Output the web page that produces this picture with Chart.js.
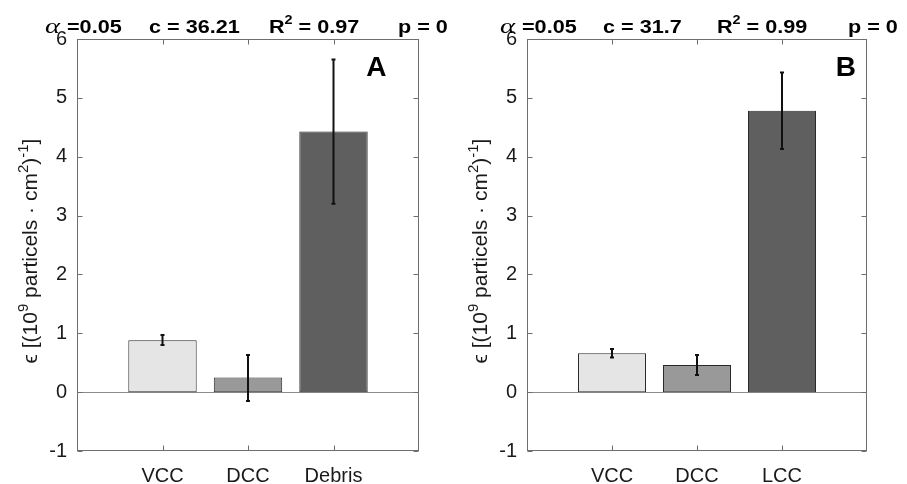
<!DOCTYPE html>
<html><head><meta charset="utf-8">
<script src="https://cdn.jsdelivr.net/npm/chart.js@4.4.1/dist/chart.umd.min.js"></script>
<style>
html,body{margin:0;padding:0;background:#fff;}
#wrap{position:relative;width:907px;height:484px;overflow:hidden;}
canvas{position:absolute;top:0;}
</style></head><body>
<div id="wrap">
<canvas id="cA" width="453" height="484" style="left:0"></canvas>
<canvas id="cB" width="454" height="484" style="left:453px"></canvas>
</div>
<script>
// ---- data ----
const categoriesA = ['VCC', 'DCC', 'Debris'];
const valuesA = [0.88, 0.25, 4.43];
const errLowA = [0.80, -0.15, 3.20];
const errHighA = [0.97, 0.63, 5.65];
const statsA = ['0.05', '36.21', '0.97', '0'];

const categoriesB = ['VCC', 'DCC', 'LCC'];
const valuesB = [0.66, 0.46, 4.78];
const errLowB = [0.59, 0.29, 4.13];
const errHighB = [0.735, 0.63, 5.43];
const statsB = ['0.05', '31.7', '0.99', '0'];

const yTicks = [-1, 0, 1, 2, 3, 4, 5, 6];
// y-axis title pieces: [text, isSuperscript]
const yTitleParts = [['ϵ [(10', false], ['9', true], [' particels · cm', false], ['2', true], [')', false], ['-1', true], [']', false]];
const barColors = ['#e5e5e5', '#999999', '#5f5f5f'];

function stretchText(ctx, text, x, y, sx) {
  ctx.save();
  ctx.translate(x, y);
  ctx.scale(sx, 1);
  ctx.fillText(text, 0, 0);
  const w = ctx.measureText(text).width * sx;
  ctx.restore();
  return w;
}

function makePanel(id, cats, vals, lo, hi, stats, letter, letterPos, layout) {
  const panelPlugin = {
    id: 'panel_' + id,
    beforeDatasetsDraw(chart) {
      const {ctx, chartArea: a, scales: {y}} = chart;
      const y0 = Math.round(y.getPixelForValue(0)) + 0.5;
      ctx.save();
      ctx.strokeStyle = '#8c8c8c';
      ctx.lineWidth = 1;
      ctx.beginPath(); ctx.moveTo(a.left, y0); ctx.lineTo(a.right, y0); ctx.stroke();
      ctx.restore();
    },
    afterDatasetsDraw(chart) {
      const {ctx, scales: {x, y}} = chart;
      ctx.save();
      ctx.strokeStyle = '#111';
      ctx.lineWidth = 2;
      cats.forEach((c, i) => {
        const px = x.getPixelForValue(i + 1);
        const p1 = y.getPixelForValue(lo[i]);
        const p2 = y.getPixelForValue(hi[i]);
        ctx.beginPath();
        ctx.moveTo(px, p1); ctx.lineTo(px, p2);
        ctx.moveTo(px - 2, p1); ctx.lineTo(px + 2, p1);
        ctx.moveTo(px - 2, p2); ctx.lineTo(px + 2, p2);
        ctx.stroke();
      });
      ctx.restore();
    },
    afterDraw(chart) {
      const {ctx, chartArea: a, scales: {x, y}} = chart;
      ctx.save();
      // box
      ctx.strokeStyle = '#6e6e6e';
      ctx.lineWidth = 1;
      const L = Math.round(a.left) + 0.5, R = Math.round(a.right) - 0.5;
      const T = Math.round(a.top) + 0.5, B = Math.round(a.bottom) - 0.5;
      ctx.strokeRect(L, T, R - L, B - T);
      // inward ticks
      ctx.beginPath();
      yTicks.forEach(v => {
        const py = Math.round(y.getPixelForValue(v)) + 0.5;
        ctx.moveTo(L, py); ctx.lineTo(L + 5, py);
        ctx.moveTo(R, py); ctx.lineTo(R - 5, py);
      });
      cats.forEach((c, i) => {
        const px = Math.round(x.getPixelForValue(i + 1)) + 0.5;
        ctx.moveTo(px, B); ctx.lineTo(px, B - 5);
        ctx.moveTo(px, T); ctx.lineTo(px, T + 5);
      });
      ctx.stroke();

      // y-axis title (rotated, with superscripts)
      ctx.save();
      ctx.fillStyle = '#1a1a1a';
      ctx.textBaseline = 'alphabetic';
      ctx.textAlign = 'left';
      const fMain = '21px "Liberation Sans"', fSup = '15px "Liberation Sans"';
      let total = 0;
      yTitleParts.forEach(([t, sup]) => { ctx.font = sup ? fSup : fMain; total += ctx.measureText(t).width; });
      ctx.translate(a.left - 40, 251);
      ctx.rotate(-Math.PI / 2);
      let tx = -total / 2;
      yTitleParts.forEach(([t, sup]) => {
        ctx.font = sup ? fSup : fMain;
        ctx.fillText(t, tx, sup ? -9 : 0);
        tx += ctx.measureText(t).width;
      });
      ctx.restore();

      // stats line
      ctx.fillStyle = '#000';
      ctx.textBaseline = 'alphabetic';
      ctx.textAlign = 'left';
      const base = 33;
      const sx = 1.2;
      ctx.font = 'italic 22px "Liberation Serif"';
      stretchText(ctx, 'α', a.left + layout.stat[0], base, 1.3);
      ctx.font = 'bold 18px "Liberation Sans"';
      stretchText(ctx, '=' + stats[0], a.left + layout.stat[1], base, sx);
      stretchText(ctx, 'c = ' + stats[1], a.left + layout.stat[2], base, sx);
      let cx = a.left + layout.stat[3];
      cx += stretchText(ctx, 'R', cx, base, sx);
      ctx.font = 'bold 12px "Liberation Sans"';
      cx += stretchText(ctx, '2', cx, base - 9, sx);
      ctx.font = 'bold 18px "Liberation Sans"';
      stretchText(ctx, ' = ' + stats[2], cx, base, sx);
      stretchText(ctx, 'p = ' + stats[3], a.left + layout.stat[4], base, sx);
      // panel letter
      ctx.font = 'bold 28px "Liberation Sans"';
      ctx.textAlign = 'center';
      ctx.fillText(letter, x.getPixelForValue(letterPos[0]), y.getPixelForValue(letterPos[1]));
      ctx.restore();
    }
  };

  return new Chart(document.getElementById(id), {
    type: 'bar',
    data: {
      datasets: [{
        data: vals.map((v, i) => ({x: i + 1, y: v})),
        backgroundColor: barColors,
        borderColor: '#2a2a2a',
        borderWidth: 1,
        borderSkipped: false,
        barPercentage: 1.0,
        categoryPercentage: 0.8
      }]
    },
    options: {
      responsive: false,
      animation: false,
      devicePixelRatio: 1,
      layout: {padding: {left: 0, right: layout.padRight, top: 39, bottom: 0}},
      plugins: {legend: {display: false}, tooltip: {enabled: false}},
      scales: {
        x: {
          type: 'linear', min: 0, max: 4, offset: false,
          grid: {display: false, drawTicks: false, offset: false},
          border: {display: false},
          afterBuildTicks: s => { s.ticks = cats.map((c, i) => ({value: i + 1})); },
          afterFit: s => { s.height = 33; },
          ticks: {
            callback: v => cats[v - 1] || '',
            color: '#1a1a1a',
            font: {family: 'Liberation Sans', size: 20},
            padding: 13,
            maxRotation: 0, autoSkip: false
          }
        },
        y: {
          min: -1, max: 6,
          grid: {display: false, drawTicks: false},
          border: {display: false},
          afterBuildTicks: s => { s.ticks = yTicks.map(v => ({value: v})); },
          afterFit: s => { s.width = layout.yWidth; },
          ticks: {
            color: '#1a1a1a',
            font: {family: 'Liberation Sans', size: 20},
            padding: 10
          }
        }
      }
    },
    plugins: [panelPlugin]
  });
}

makePanel('cA', categoriesA, valuesA, errLowA, errHighA, statsA, 'A', [3.5, 5.37],
  {padRight: 34, yWidth: 77, stat: [-32, -10, 72, 192, 321]});
makePanel('cB', categoriesB, valuesB, errLowB, errHighB, statsB, 'B', [3.75, 5.37],
  {padRight: 40, yWidth: 74, stat: [-27, -5, 76, 190, 321]});
</script>
</body></html>
